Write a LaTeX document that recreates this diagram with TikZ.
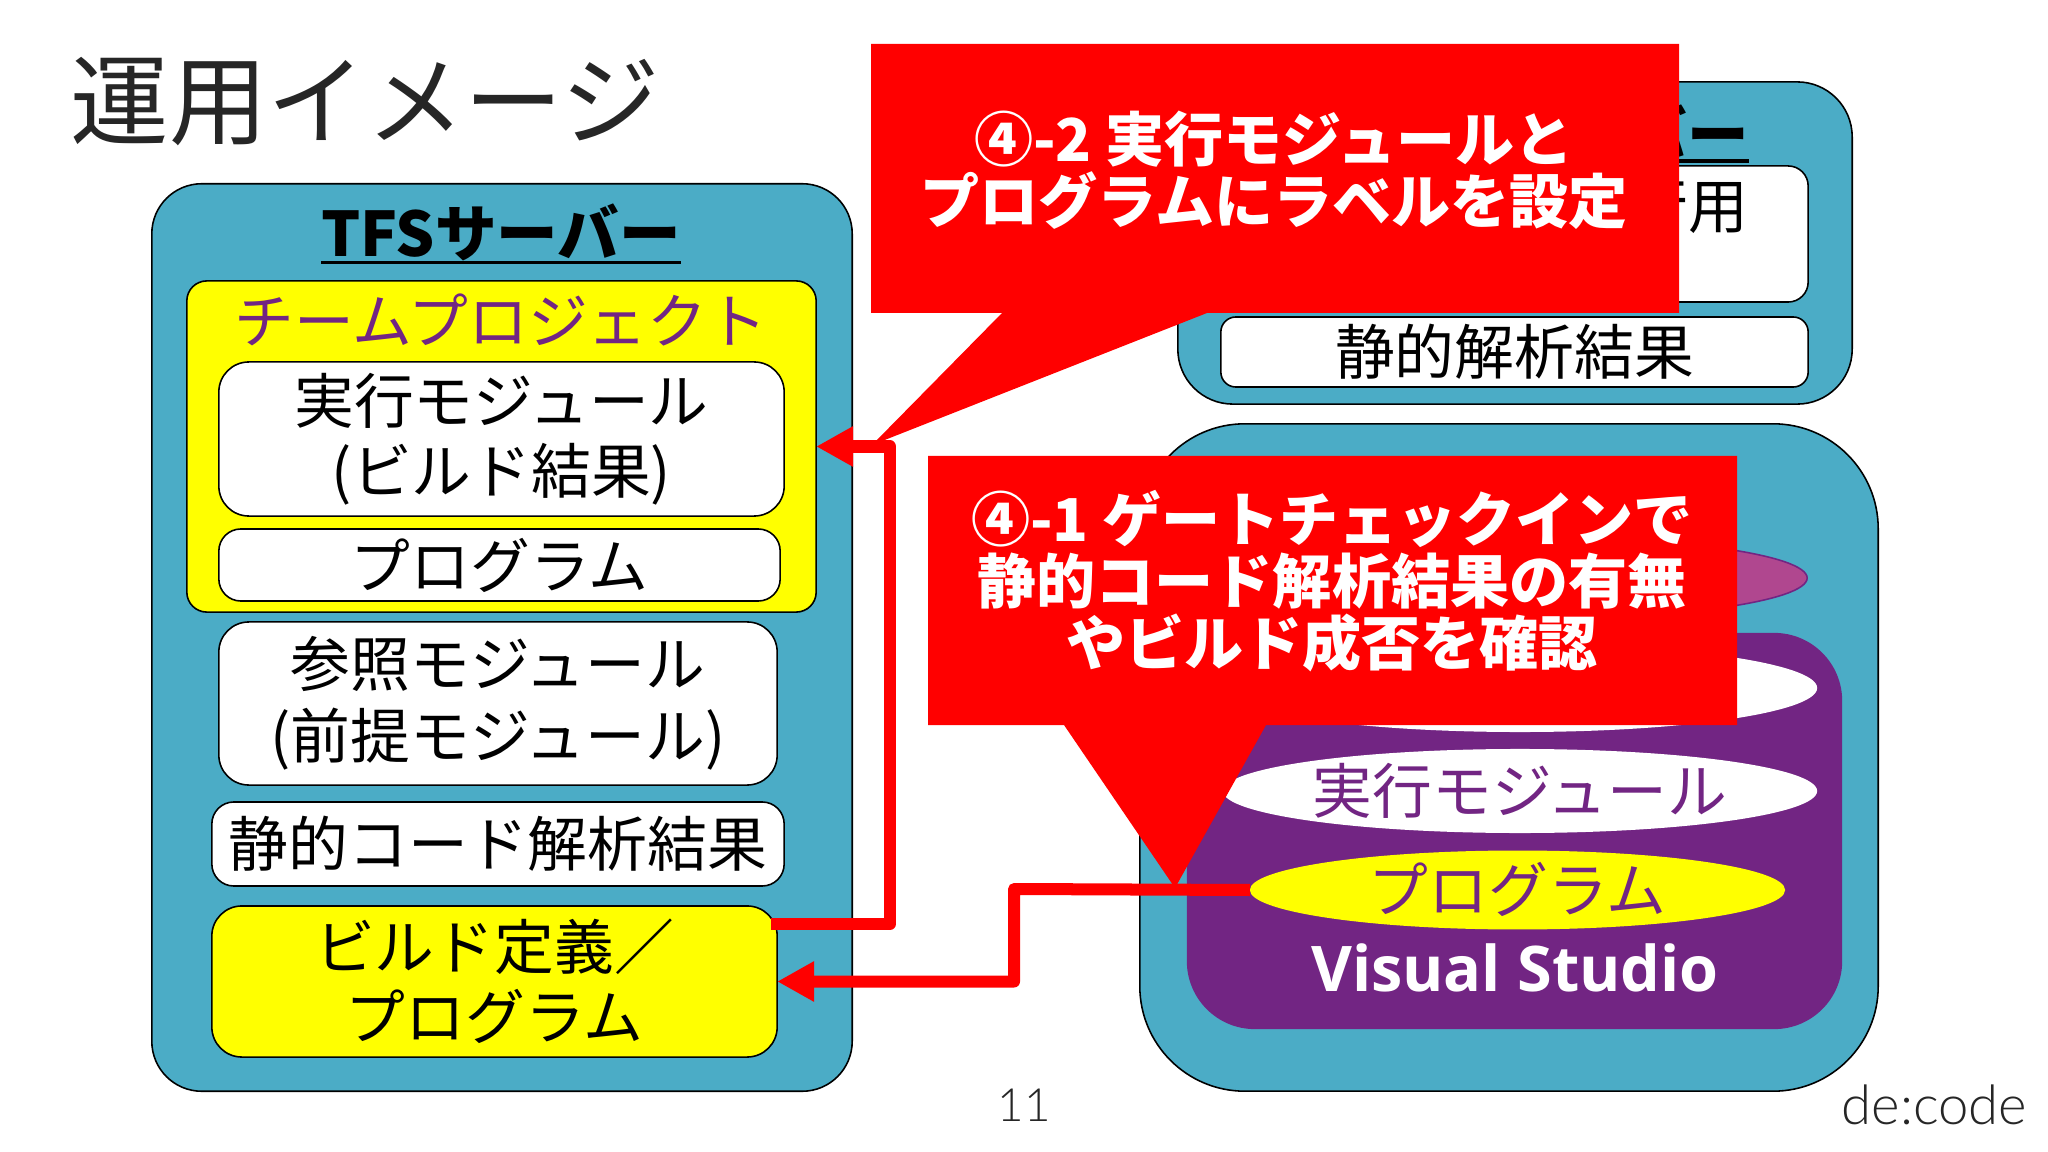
\documentclass[tikz,border=0pt]{standalone}
\usepackage{fontspec}
\setmainfont{Noto Sans CJK JP}
\newfontfamily\latinfont{Open Sans}
\newfontfamily\logofont[UprightFont=* Light]{Lato}
\usetikzlibrary{arrows.meta, shapes.geometric}
\definecolor{serverblue}{HTML}{4BACC6}
\definecolor{vspurple}{HTML}{722583}
\definecolor{dbpink}{HTML}{B0478F}
\definecolor{titlegray}{HTML}{262626}
\definecolor{boxyellow}{RGB}{255,255,0}
\definecolor{calloutred}{RGB}{255,0,0}

\begin{document}
\begin{tikzpicture}[x=0.01cm, y=-0.01cm,
            bodytext/.style={font=\fontsize{17}{19.9}\selectfont, align=center, inner sep=0pt, outer sep=0pt},
            server/.style={draw=black, fill=serverblue, line width=0.45pt},
            whitebox/.style={bodytext, draw=black, fill=white, line width=0.45pt, rounded corners=0.22cm},
            heading/.style={bodytext, font=\fontsize{17.5}{19.9}\selectfont\bfseries},
            database/.style={bodytext, ellipse, fill=white, text=vspurple},
            callout/.style={fill=calloutred},
            callouttext/.style={bodytext, font=\fontsize{16.8}{17.6}\selectfont\bfseries, text=white},
            redarrow/.style={draw=calloutred, line width=0.12cm, line join=round, -{Triangle[length=0.37cm, width=0.38cm]}}
            ]
            \useasboundingbox (0, 0) rectangle (2048, 1152);

            \node[anchor=west, inner sep=0pt, text=titlegray, font=\fontsize{28}{30}\selectfont] (title) at (70, 102) {運用イメージ};

            % left server
            \node[server, rounded corners=0.5cm, minimum width=7cm, minimum height=9.07cm, inner sep=0pt] (tfsserver) at (502, 637.5) {};
            \node[heading] (tfstitle) at (501, 232) {TFSサーバー};
            \draw[line width=0.9pt] ([yshift=-0.5pt] tfstitle.south west) -- ([yshift=-0.5pt] tfstitle.south east);

            \node[whitebox, fill=boxyellow, rounded corners=0.2cm, minimum width=6.29cm, minimum height=3.31cm] (teamproject) at (501.5, 446.5) {};
            \node[bodytext, text=vspurple] (teamtitle) at (501, 320) {チームプロジェクト};
            \node[whitebox, rounded corners=0.3cm, minimum width=5.65cm, minimum height=1.54cm] (runmodule) at (501.5, 439) {\raisebox{-0.6pt}{実行モジュール}\\\raisebox{-0.6pt}{(ビルド結果)}};
            \node[whitebox, minimum width=5.61cm, minimum height=0.72cm] (program) at (499.5, 565) {プログラム};
            \node[whitebox, rounded corners=0.3cm, minimum width=5.58cm, minimum height=1.63cm] (refmodule) at (498, 703.5) {\raisebox{0.5pt}{参照モジュール}\\(前提モジュール)};
            \node[whitebox, minimum width=5.72cm, minimum height=0.84cm] (staticresult) at (498, 844) {\raisebox{1.6pt}{静的コード解析結果}};
            \node[whitebox, fill=boxyellow, rounded corners=0.3cm, minimum width=5.65cm, minimum height=1.51cm] (buildprogram) at (494.5, 981.5) {ビルド定義／\\プログラム};

            % right top server
            \node[server, rounded corners=0.55cm, minimum width=6.74cm, minimum height=3.22cm, inner sep=0pt] (buildserver) at (1515, 243) {};
            \node[heading, anchor=east] (buildtitle) at (1749, 132) {バー};
            \draw[line width=0.9pt] (1500, 161) -- (buildtitle.south east |- 0, 161);
            \node[whitebox, rounded corners=0.2cm, minimum width=5.87cm, minimum height=1.36cm] (runbox) at (1514.5, 234) {};
            \node[bodytext, anchor=east] (runtext) at (1748, 206) {行用};
            \node[whitebox, rounded corners=0.15cm, minimum width=5.87cm, minimum height=0.7cm] (staticbox) at (1514.5, 352) {静的解析結果};

            % right bottom pc
            \node[server, rounded corners=1.05cm, minimum width=7.38cm, minimum height=6.67cm, inner sep=0pt] (devpc) at (1509, 757.5) {};
            \node[database, fill=dbpink, draw=vspurple, line width=0.45pt, minimum width=5.84cm, minimum height=0.84cm] (tfsellipse) at (1515, 578) {};
            \node[fill=vspurple, rounded corners=0.68cm, minimum width=6.55cm, minimum height=3.96cm, inner sep=0pt] (vsbox) at (1514.5, 831) {};
            \node[database, minimum width=5.94cm, minimum height=0.88cm] (topellipse) at (1520, 688) {};
            \node[database, minimum width=5.94cm, minimum height=0.84cm] (runellipse) at (1520, 791) {\raisebox{0.7pt}{実行モジュール}};
            \node[database, fill=boxyellow, minimum width=5.35cm, minimum height=0.72cm] (programellipse) at (1517.5, 890) {\raisebox{1.6pt}{プログラム}};
            \node[inner sep=0pt, text=white, font=\fontsize{17.9}{20}\latinfont\bfseries] (vstitle) at (1515, 968) {Visual Studio};

            % arrows
            \coordinate (buildstart) at (771, 924);
            \coordinate (labelbend) at (890, 924);
            \coordinate (gatebend) at (1014, 889);
            \draw[redarrow] (buildstart) -- (labelbend) |- (teamproject.east);
            \draw[redarrow] (programellipse.west) -- (gatebend) |- (buildprogram.east);

            % callouts
            \fill[callout] (871, 44) -- (1679, 44) -- (1679, 313) -- (1207, 313) -- (872, 445) -- (1002, 313) -- (871, 313) -- cycle;
            \fill[callout] (928, 456) -- (1737, 456) -- (1737, 725) -- (1266, 725) -- (1175, 888) -- (1064, 725) -- (928, 725) -- cycle;
            \node[callouttext] (labeltext) at (1274, 170) {④-2 実行モジュールと\\プログラムにラベルを設定};
            \node[callouttext] (gatetext) at (1332, 581) {④-1 ゲートチェックインで\\静的コード解析結果の有無\\やビルド成否を確認};

            \node[inner sep=0pt, text=titlegray, font=\fontsize{13}{15}\logofont] (pagenumber) at (1024, 1105) {11};
            \node[anchor=east, inner sep=0pt, text=titlegray, font=\fontsize{15.5}{18}\logofont] (logo) at (2028, 1105) {de:code};
        \end{tikzpicture}
\end{document}
